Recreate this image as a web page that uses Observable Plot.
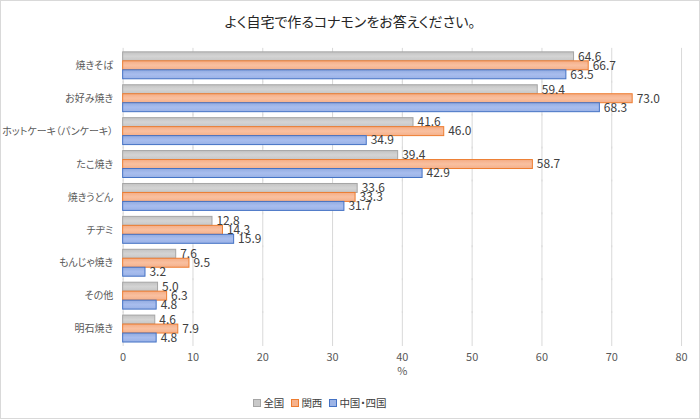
<!DOCTYPE html>
<html>
<head>
<meta charset="utf-8">
<script src="https://cdn.jsdelivr.net/npm/d3@7"></script>
<script src="https://cdn.jsdelivr.net/npm/@observablehq/plot@0.6"></script>
<style>
  html, body { margin: 0; padding: 0; background: #fff; }
  #wrap { position: relative; width: 700px; height: 419px; box-sizing: border-box; border: 1px solid #d9d9d9; font-family: "Noto Sans CJK JP", sans-serif; font-feature-settings: "palt"; background: #fff; overflow: hidden; }
  #title { position: absolute; top: 10px; left: 0; width: 100%; text-align: center; font-size: 14px; color: #262626; font-feature-settings: "palt"; }
  #chart { position: absolute; top: 0; left: 0; }
  #chart svg text { font-feature-settings: "palt"; }
  #chart svg g[aria-label="fy-axis tick label"] { font-size: 10px; }
  #legend { position: absolute; top: 394px; left: 0; width: 638px; display: flex; justify-content: center; gap: 7px; font-size: 10.5px; color: #404040; font-feature-settings: "palt"; }
  #legend span.item { display: flex; align-items: center; gap: 2px; }
  #legend span.sw { display: inline-block; width: 6px; height: 6px; border: 1px solid; }
</style>
</head>
<body>
<div id="wrap">
  <div id="title">よく自宅で作るコナモンをお答えください。</div>
  <div id="chart"></div>
  <div id="legend"></div>
</div>
<script>
const categories = ["焼きそば", "お好み焼き", "ホットケーキ（パンケーキ）", "たこ焼き", "焼きうどん", "チヂミ", "もんじゃ焼き", "その他", "明石焼き"];
const seriesNames = ["全国", "関西", "中国・四国"];
const zenkoku = [64.6, 59.4, 41.6, 39.4, 33.6, 12.8, 7.6, 5.0, 4.6];
const kansai = [66.7, 73.0, 46.0, 58.7, 33.3, 14.3, 9.5, 6.3, 7.9];
const chugoku = [63.5, 68.3, 34.9, 42.9, 31.7, 15.9, 3.2, 4.8, 4.8];
const xTicks = [0, 10, 20, 30, 40, 50, 60, 70, 80];

const fills = ["url(#gGray)", "url(#gOrange)", "url(#gBlue)"];
const strokes = ["#a5a5a5", "#ed7d31", "#4472c4"];
const swatchFill = ["#c9c9c9", "#f6b28c", "#9db4e6"];

const seriesValues = [zenkoku, kansai, chugoku];
const data = [];
categories.forEach((c, i) => {
  seriesNames.forEach((s, j) => data.push({cat: c, series: s, value: seriesValues[j][i]}));
});

const plot = Plot.plot({
  width: 700,
  height: 385,
  marginTop: 48,
  marginBottom: 40,
  marginLeft: 122,
  marginRight: 18,
  style: {fontFamily: "'Noto Sans CJK JP', sans-serif", fontSize: "11px", color: "#595959", background: "transparent"},
  x: {domain: [0, 80], ticks: xTicks, tickSize: 0, tickPadding: 11, label: "%", labelArrow: false, labelAnchor: "center", labelOffset: 33},
  y: {domain: seriesNames, axis: null, padding: 0},
  fy: {domain: categories, padding: 0.18, tickSize: 0, tickPadding: 10, label: null},
  color: {domain: seriesNames, range: fills},
  marks: [
    Plot.ruleX(xTicks, {x: d => d, stroke: "#d9d9d9", strokeWidth: 1, insetTop: -4, insetBottom: -4}),
    Plot.barX(data, {x: "value", y: "series", fy: "cat", fill: "series", stroke: d => strokes[seriesNames.indexOf(d.series)], strokeWidth: 1}),
    Plot.text(data, {x: "value", y: "series", fy: "cat", text: d => d.value.toFixed(1), dx: 4, textAnchor: "start", fill: "#404040", fontSize: 12})
  ]
});

// gradient defs
const ns = "http://www.w3.org/2000/svg";
const defs = document.createElementNS(ns, "defs");
const grads = [
  ["gGray", "#c3c3c3", "#d4d4d4", "#c6c6c6"],
  ["gOrange", "#f4ad86", "#f9c0a0", "#f5b08a"],
  ["gBlue", "#92abe0", "#a8bdee", "#9ab2e6"]
];
grads.forEach(([id, a, b, c]) => {
  const g = document.createElementNS(ns, "linearGradient");
  g.setAttribute("id", id);
  g.setAttribute("x1", "0"); g.setAttribute("y1", "0"); g.setAttribute("x2", "0"); g.setAttribute("y2", "1");
  [[0, a], [0.5, b], [1, c]].forEach(([o, col]) => {
    const st = document.createElementNS(ns, "stop");
    st.setAttribute("offset", o); st.setAttribute("stop-color", col);
    g.appendChild(st);
  });
  defs.appendChild(g);
});
const svg = plot.tagName.toLowerCase() === "svg" ? plot : plot.querySelector("svg");
svg.insertBefore(defs, svg.firstChild);
document.getElementById("chart").appendChild(plot);

const legend = document.getElementById("legend");
seriesNames.forEach((s, j) => {
  const item = document.createElement("span");
  item.className = "item";
  const sw = document.createElement("span");
  sw.className = "sw";
  sw.style.background = swatchFill[j];
  sw.style.borderColor = strokes[j];
  item.appendChild(sw);
  item.appendChild(document.createTextNode(s));
  legend.appendChild(item);
});
</script>
</body>
</html>
